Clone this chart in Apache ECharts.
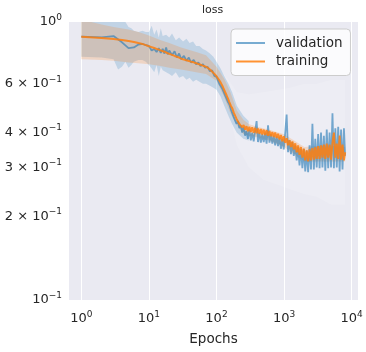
<!DOCTYPE html>
<html><head><meta charset="utf-8">
<script src="https://cdn.jsdelivr.net/npm/echarts@6/dist/echarts.min.js"></script>
<style>html,body{margin:0;padding:0;background:#fff}#c{width:366px;height:352px}</style>
</head><body><div id="c"></div>
<script>
const epochs = [1,2,3,4,5,6,7,8,9,10,11,12,13,14,15,16,17,18,19,20,
22,24,26,28,30,33,36,39,42,46,50,54,58,63,68,74,80,86,93,100,
105,110,116,122,128,134,141,148,155,163,171,180,189,198,208,218,229,240,252,265,
278,292,307,322,338,355,373,392,411,432,453,476,500,525,551,579,608,638,670,703,
738,775,814,855,897,942,989,1039,1091,1145,1202,1263,1326,1392,1462,1535,1611,1692,1777,1865,
1959,2057,2160,2268,2381,2500,2625,2756,2894,3039,3191,3350,3518,3694,3878,4072,4276,4490,4714,4950,
5197,5457,5730,6017,6318,6634,6965,7314,7680,8000];
const validation = [.886,.88,.89,.845,.805,.81,.83,.835,.825,.82,.79,.80,.78,.805,.775,.80,.77,.81,.765,.79,
.76,.785,.745,.77,.735,.755,.725,.745,.715,.73,.705,.715,.695,.705,.685,.69,.665,.67,.64,.635,
.625,.60,.605,.575,.57,.545,.54,.515,.505,.485,.478,.455,.455,.43,.44,.415,.425,.40,.418,.39,
.405,.38,.41,.375,.40,.372,.405,.44,.37,.40,.368,.395,.37,.40,.365,.425,.368,.395,.365,.39,
.36,.388,.358,.385,.35,.38,.348,.40,.465,.34,.375,.335,.37,.33,.36,.318,.355,.305,.35,.298,
.35,.29,.345,.288,.36,.295,.43,.295,.38,.30,.395,.298,.40,.30,.39,.292,.41,.298,.40,.30,
.47,.298,.415,.30,.42,.29,.41,.295,.415,.33];
const training = [.885,.876,.868,.862,.855,.848,.84,.834,.826,.818,.812,.806,.80,.796,.79,.786,.782,.776,.772,.768,
.762,.755,.75,.744,.738,.733,.728,.724,.72,.716,.711,.706,.702,.697,.692,.685,.675,.664,.651,.638,
.628,.617,.604,.59,.575,.56,.545,.53,.515,.50,.49,.472,.465,.448,.446,.43,.435,.418,.426,.41,
.422,.405,.42,.402,.418,.40,.416,.398,.414,.396,.412,.394,.41,.392,.408,.39,.405,.388,.402,.386,
.40,.383,.396,.378,.392,.372,.388,.368,.382,.36,.376,.355,.372,.348,.366,.34,.36,.333,.355,.325,
.35,.318,.345,.315,.348,.318,.352,.32,.355,.322,.358,.322,.36,.325,.362,.322,.365,.325,.362,.32,
.368,.40,.325,.365,.322,.39,.32,.362,.318,.34];

const valBandEpochs = [1,2,3,3.5,4,4.5,5,5.5,6,7,8,9,10,11,12,13,14,15,16,18,20,22,25,28,32,36,40,45,50,56,63,70,80,90,100,115,130,150,170,200,250,300];
const valLow = [.75,.745,.735,.675,.69,.72,.685,.70,.72,.73,.73,.72,.70,.68,.66,.70,.64,.69,.67,.66,.65,.64,.66,.63,.64,.62,.63,.61,.62,.61,.60,.60,.59,.58,.57,.54,.50,.46,.43,.40,.38,.375];
const valHigh = [1.02,1.0,1.03,1.04,1.05,1.0,.96,.95,.93,.92,.93,.92,.92,.97,.90,.94,.88,.95,.89,.90,.88,.91,.86,.88,.85,.87,.84,.85,.82,.82,.80,.79,.77,.75,.72,.68,.64,.60,.56,.50,.46,.44];

const trainBandEpochs = [1,2,3,5,7,10,15,20,30,50,70,100,130,160,200,250,300,400,600,1000,2000,4000,8000];
const trainLow = [.735,.73,.725,.715,.71,.705,.695,.685,.675,.66,.65,.615,.535,.47,.425,.395,.39,.385,.375,.355,.315,.315,.315];
const trainHigh = [1.02,.98,.96,.94,.92,.895,.86,.84,.81,.78,.76,.69,.625,.56,.48,.445,.43,.42,.41,.395,.355,.36,.355];

const spreadEpochs = [120,150,200,300,500,800,1200,2000,3000,5000,8000];
const spreadLow = [.55,.48,.36,.30,.27,.26,.25,.24,.235,.22,.22];
const spreadHigh = [.66,.62,.56,.55,.56,.57,.58,.60,.60,.62,.62];

const xTickExponents = [0,1,2,3,4];
const yTickValues = [0.1,0.2,0.3,0.4,0.6,1];

const X_MIN = 0.658, X_MAX = 12400, Y_MIN = 0.1, Y_MAX = 1;
const FONT = 'DejaVu Sans';
const TXT = '#262626';

function band(name, xs, lo, hi, color, z) {
  return {
    type: 'custom', name: name, xAxisIndex: 0, yAxisIndex: 0, silent: true, clip: true, z: z,
    data: xs.map((x, i) => [x, lo[i], hi[i]]),
    encode: { x: 0, y: [1, 2] },
    renderItem: function (params, api) {
      if (params.dataIndex !== 0) return null;
      const pts = [];
      for (let i = 0; i < xs.length; i++) pts.push(api.coord([xs[i], hi[i]]));
      for (let i = xs.length - 1; i >= 0; i--) pts.push(api.coord([xs[i], lo[i]]));
      return { type: 'polygon', shape: { points: pts }, style: { fill: color } };
    }
  };
}

const rich = {
  b: { fontSize: 13, lineHeight: 18, fontFamily: FONT, color: TXT },
  s: { fontSize: 9, lineHeight: 9, verticalAlign: 'top', fontFamily: FONT, color: TXT }
};

const chart = echarts.init(document.getElementById('c'), null, { renderer: 'canvas' });
chart.setOption({
  backgroundColor: '#ffffff',
  animation: false,
  textStyle: { fontFamily: FONT },
  title: {
    text: 'loss', left: 212.5, top: 5, textAlign: 'center', padding: 0,
    textStyle: { fontSize: 11, fontWeight: 'normal', color: TXT, fontFamily: FONT }
  },
  grid: { left: 69, right: 8, top: 22, bottom: 52, show: true, backgroundColor: '#eaeaf2', borderWidth: 0 },
  legend: {
    data: ['validation', 'training'], orient: 'vertical', left: 231, top: 29,
    icon: 'rect', itemWidth: 29, itemHeight: 2, itemGap: 4.5,
    backgroundColor: 'rgba(255,255,255,0.8)', borderColor: '#cccccc', borderWidth: 1, borderRadius: 4,
    padding: [7, 8, 7, 5],
    textStyle: { fontSize: 13.5, color: TXT, fontFamily: FONT, padding: [0, 0, 0, 6] }
  },
  xAxis: [
    { type: 'log', min: X_MIN, max: X_MAX, show: false },
    {
      type: 'value', min: Math.log10(X_MIN), max: Math.log10(X_MAX), position: 'bottom',
      name: 'Epochs', nameLocation: 'middle', nameGap: 32,
      nameTextStyle: { fontSize: 13.5, color: TXT, fontFamily: FONT },
      axisLine: { show: false },
      axisTick: { show: false, customValues: xTickExponents },
      axisLabel: { customValues: xTickExponents, margin: 10, formatter: v => '{b|10}{s|' + Math.round(v) + '}', rich: rich },
      splitLine: { show: true, lineStyle: { color: '#ffffff', width: 1 } }
    }
  ],
  yAxis: [
    { type: 'log', min: Y_MIN, max: Y_MAX, show: false },
    {
      type: 'value', min: Math.log10(Y_MIN), max: Math.log10(Y_MAX), position: 'left',
      axisLine: { show: false },
      axisTick: { show: false, customValues: yTickValues.map(Math.log10) },
      axisLabel: {
        customValues: yTickValues.map(Math.log10), margin: 7, rich: rich,
        formatter: function (v) {
          const r = Math.pow(10, v);
          if (Math.abs(r - 1) < 1e-6) return '{b|10}{s|0}';
          if (Math.abs(r - 0.1) < 1e-6) return '{b|10}{s|\u22121}';
          return '{b|' + Math.round(r * 10) + ' \u00d7 10}{s|\u22121}';
        }
      },
      splitLine: { show: false }
    }
  ],
  series: [
    band('spread', spreadEpochs, spreadLow, spreadHigh, 'rgba(255,255,255,0.15)', 1),
    band('valband', valBandEpochs, valLow, valHigh, 'rgba(31,119,180,0.2)', 2),
    band('trainband', trainBandEpochs, trainLow, trainHigh, 'rgba(255,127,14,0.2)', 3),
    {
      name: 'validation', type: 'line', xAxisIndex: 0, yAxisIndex: 0, z: 4,
      data: epochs.map((e, i) => [e, validation[i]]),
      symbol: 'none', showSymbol: false,
      lineStyle: { color: 'rgba(31,119,180,0.6)', width: 1.8 },
      itemStyle: { color: 'rgba(31,119,180,0.6)' }
    },
    {
      name: 'training', type: 'line', xAxisIndex: 0, yAxisIndex: 0, z: 5,
      data: epochs.map((e, i) => [e, training[i]]),
      symbol: 'none', showSymbol: false,
      lineStyle: { color: 'rgba(255,127,14,0.85)', width: 2 },
      itemStyle: { color: 'rgba(255,127,14,0.85)' }
    }
  ]
});
</script></body></html>
